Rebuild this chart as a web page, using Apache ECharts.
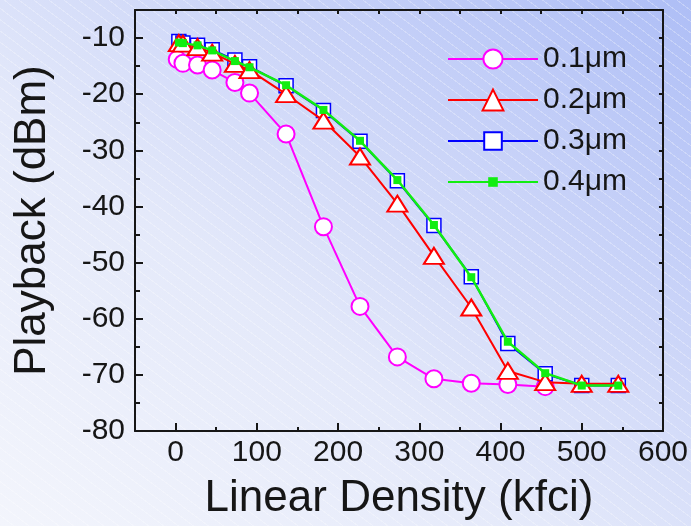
<!DOCTYPE html>
<html>
<head>
<meta charset="utf-8">
<script src="https://cdn.jsdelivr.net/npm/echarts@6/dist/echarts.min.js"></script>
<style>
  html, body { margin: 0; padding: 0; }
  #wrap {
    width: 691px; height: 526px; position: relative;
    background:
      repeating-linear-gradient(37deg, rgba(255,255,255,0) 0px, rgba(255,255,255,0) 8px, rgba(255,255,255,0.28) 8px, rgba(255,255,255,0.28) 9px),
      linear-gradient(to top right, #f3f5fc 0%, #e4e9fa 40%, #c9d3f8 70%, #aebef6 100%);
  }
  #chart { width: 691px; height: 526px; }
</style>
</head>
<body>
<div id="wrap"><div id="chart"></div></div>
<script>
// Playback signal vs. linear density for four write widths
const seriesNames = ['0.1\u03bcm', '0.2\u03bcm', '0.3\u03bcm', '0.4\u03bcm'];

const density01 = [2, 9, 27, 45, 73, 91, 136, 182, 227, 273, 318, 364, 409, 455];
const playback01 = [-13.8, -14.5, -14.8, -15.7, -17.9, -19.8, -27.1, -43.6, -57.8, -66.8, -70.7, -71.5, -71.7, -72.1];

const densityWide = [4, 9, 27, 45, 73, 91, 136, 182, 227, 273, 318, 364, 409, 455, 500, 545];
const playback02 = [-10.9, -11.0, -11.6, -12.6, -14.6, -15.7, -20.0, -24.7, -31.1, -39.5, -48.8, -58.0, -69.3, -71.3, -71.6, -71.6];
const playback03 = [-10.6, -10.9, -11.3, -12.1, -13.9, -15.1, -18.5, -22.9, -28.4, -35.4, -43.4, -52.5, -64.4, -69.8, -71.9, -71.9];
const playback04 = [-10.8, -10.9, -11.3, -12.2, -14.1, -15.2, -18.4, -22.8, -28.3, -35.3, -43.3, -52.6, -64.1, -69.7, -71.9, -71.9];

const xMajorTicks = [0, 100, 200, 300, 400, 500, 600];
const xMinorTicks = [50, 150, 250, 350, 450, 550];
const yMajorTicks = [-80, -70, -60, -50, -40, -30, -20, -10];
const yMinorTicks = [-75, -65, -55, -45, -35, -25, -15];

const FONT = '"Liberation Sans", Arial, sans-serif';
const INK = '#161616';

function pairs(xs, ys) { return xs.map((x, i) => [x, ys[i]]); }

const xBase = { type: 'value', min: -50, max: 600, interval: 50, splitLine: { show: false } };
const yBase = { type: 'value', min: -80, max: -5, interval: 5, splitLine: { show: false } };
const lineStyleAxis = { color: INK, width: 2 };

const chart = echarts.init(document.getElementById('chart'), null, { renderer: 'canvas' });

const styles = [
  { color: '#ff00ff', symbol: 'circle', size: 17, bw: 2, fill: '#ffffff', lw: 2, z: 2, legendH: 24 },
  { color: '#ff0000', symbol: 'triangle', size: [20, 16], bw: 2, fill: '#ffffff', lw: 2, z: 4, legendH: 26 },
  { color: '#0000ff', symbol: 'rect', size: 14, bw: 1.5, fill: '#ffffff', lw: 2, z: 3, legendH: 22 },
  { color: '#11ee11', symbol: 'rect', size: 8, bw: 0, fill: '#11ee11', lw: 2.5, z: 5, legendH: 12 }
];
const seriesData = [
  pairs(density01, playback01),
  pairs(densityWide, playback02),
  pairs(densityWide, playback03),
  pairs(densityWide, playback04)
];
const legendRows = [59, 100, 141, 182];

const option = {
  animation: false,
  grid: { left: 135, right: 28, top: 10, bottom: 91, containLabel: false },
  xAxis: [
    Object.assign({}, xBase, {
      position: 'bottom',
      axisLine: { show: true, onZero: false, lineStyle: lineStyleAxis },
      axisTick: { show: true, inside: true, length: 8, lineStyle: { color: INK, width: 2 }, customValues: xMajorTicks },
      axisLabel: { show: true, customValues: xMajorTicks, fontSize: 30, fontFamily: FONT, color: INK, margin: 7 },
      name: 'Linear Density (kfci)', nameLocation: 'middle', nameGap: 46,
      nameTextStyle: { fontSize: 44, fontFamily: FONT, color: INK }
    }),
    Object.assign({}, xBase, {
      position: 'bottom',
      axisLine: { show: false, onZero: false },
      axisTick: { show: true, inside: true, length: 4, lineStyle: { color: INK, width: 2 }, customValues: xMinorTicks },
      axisLabel: { show: false }
    }),
    Object.assign({}, xBase, {
      position: 'top',
      axisLine: { show: true, onZero: false, lineStyle: lineStyleAxis },
      axisTick: { show: true, inside: true, length: 4, lineStyle: { color: INK, width: 2 }, customValues: xMajorTicks.concat(xMinorTicks) },
      axisLabel: { show: false }
    })
  ],
  yAxis: [
    Object.assign({}, yBase, {
      position: 'left',
      axisLine: { show: true, onZero: false, lineStyle: lineStyleAxis },
      axisTick: { show: true, inside: true, length: 8, lineStyle: { color: INK, width: 2 }, customValues: yMajorTicks },
      axisLabel: { show: true, customValues: yMajorTicks, fontSize: 30, fontFamily: FONT, color: INK, margin: 10 },
      name: 'Playback (dBm)', nameLocation: 'middle', nameGap: 80, nameRotate: 90,
      nameTextStyle: { fontSize: 44, fontFamily: FONT, color: INK }
    }),
    Object.assign({}, yBase, {
      position: 'left',
      axisLine: { show: false, onZero: false },
      axisTick: { show: true, inside: true, length: 5, lineStyle: { color: INK, width: 2 }, customValues: yMinorTicks },
      axisLabel: { show: false }
    }),
    Object.assign({}, yBase, {
      position: 'right',
      axisLine: { show: true, onZero: false, lineStyle: lineStyleAxis },
      axisTick: { show: true, inside: true, length: 4, lineStyle: { color: INK, width: 2 }, customValues: yMajorTicks.concat(yMinorTicks) },
      axisLabel: { show: false }
    })
  ],
  legend: seriesNames.map((name, i) => ({
    data: [name],
    left: 447,
    top: legendRows[i] - 15,
    padding: 0,
    orient: 'vertical',
    itemWidth: 90,
    itemHeight: styles[i].legendH,
    selectedMode: false,
    textStyle: { fontSize: 30, fontFamily: FONT, color: INK }
  })),
  series: seriesNames.map((name, i) => ({
    name: name,
    type: 'line',
    xAxisIndex: 0,
    yAxisIndex: 0,
    z: styles[i].z,
    data: seriesData[i],
    symbol: styles[i].symbol,
    symbolSize: styles[i].size,
    showAllSymbol: true,
    lineStyle: { color: styles[i].color, width: styles[i].lw },
    itemStyle: { color: styles[i].fill, borderColor: styles[i].color, borderWidth: styles[i].bw },
    emphasis: { disabled: true }
  }))
};

chart.setOption(option);
</script>
</body>
</html>
